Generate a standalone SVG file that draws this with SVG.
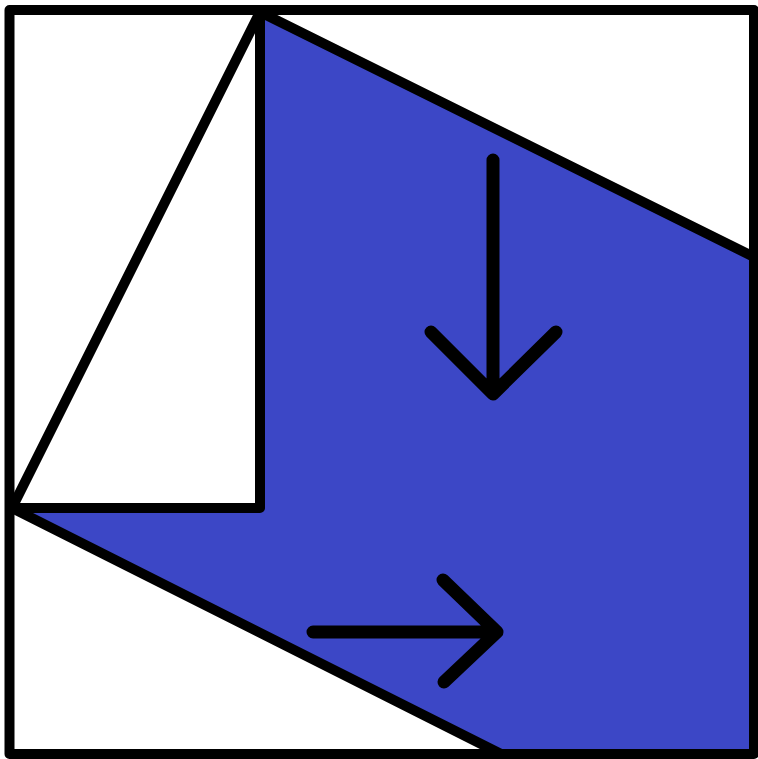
<svg xmlns="http://www.w3.org/2000/svg" width="758" height="759" viewBox="0 0 758 759">
<style>
.ln{fill:none;stroke:#000;stroke-width:10;stroke-linejoin:round;stroke-linecap:round}
.ar{fill:none;stroke:#000;stroke-width:13;stroke-linecap:round;stroke-linejoin:round}
</style>
<rect x="0" y="0" width="758" height="759" fill="#fff"/>
<g id="shape">
<polygon points="260,12 754,257 754,754 501,754 12,508 260,508" fill="#3c47c6"/>
<polyline class="ln" points="260,12 754,257"/>
<polyline class="ln" points="12,508 501,754"/>
<polyline class="ln" points="260,12 260,508 12,508 260,12"/>
</g>
<rect id="frame" x="9.5" y="10" width="744.5" height="744" class="ln" stroke-linejoin="miter"/>
<g id="connectors">
<path class="ar" d="M493,160 V394 M431,332 L493,394 L556,332"/>
<path class="ar" d="M313,632 H497 M443,580 L497,632 L444,682"/>
</g>
</svg>
